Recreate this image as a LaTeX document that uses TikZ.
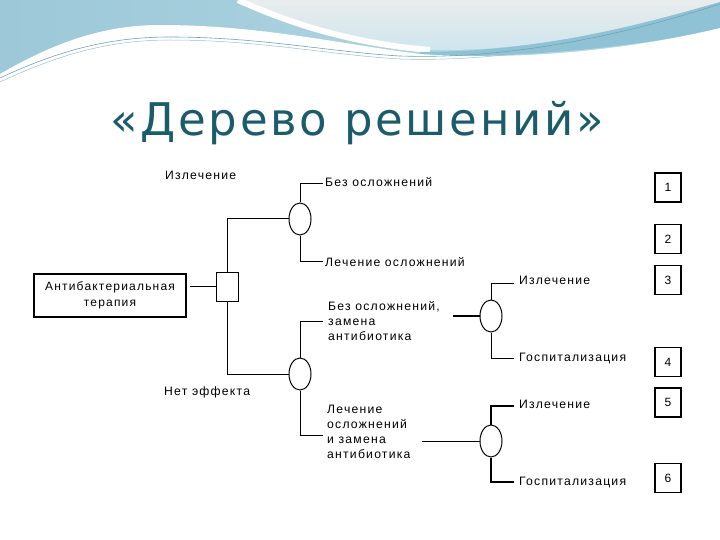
\documentclass[tikz,border=0pt]{standalone}
\usepackage{fontspec}
\setmainfont{Liberation Sans}
\newfontfamily\titlefont[LetterSpace=6]{DejaVu Sans}
\newfontfamily\lblfont[LetterSpace=10]{Liberation Sans}
\usetikzlibrary{shapes.geometric}
\definecolor{titlecol}{HTML}{1B5C6C}
\definecolor{bgA}{HTML}{9CC8D8}
\definecolor{bgB}{HTML}{B9DBE7}
\definecolor{bgGray}{HTML}{E9ECEC}
\definecolor{bgBand}{HTML}{8FC2D5}
\definecolor{wline}{HTML}{6FA5B8}
\tikzset{
  lbl/.style={font=\lblfont\fontsize{12.2}{15}\selectfont, inner sep=0pt, align=left},
  chance/.style={draw, ellipse, minimum width=22pt, minimum height=32pt, inner sep=0pt, line width=1pt},
  decbox/.style={draw, rectangle, minimum width=22pt, minimum height=29pt, inner sep=0pt, line width=1pt},
  endbox/.style={draw, rectangle, minimum width=26pt, minimum height=29pt, inner sep=0pt, line width=1.3pt, font=\lblfont\fontsize{12}{14}\selectfont},
  conn/.style={line width=1pt},
  thick conn/.style={line width=1.8pt}
}
\begin{document}
\begin{tikzpicture}[x=1pt,y=-1pt]
\useasboundingbox (0,0) rectangle (720,540);
% background
\fill[white] (0,0) rectangle (720,540);
\shade[left color=bgA, right color=bgB] (0,0) rectangle (720,95);
\shade[top color=bgGray, bottom color=bgB!70!white] (238,0) .. controls (300,28) and (360,44) .. (430,50) .. controls (540,52) and (640,25) .. (720,2) -- (720,0) -- cycle;
\draw[white, line width=6pt] (238,0) .. controls (300,28) and (360,44) .. (430,50);
\fill[bgBand] (420,52) .. controls (540,52) and (640,25) .. (720,2) -- (720,30) .. controls (640,45) and (540,58) .. (420,56) -- cycle;
\fill[white] (0,74) .. controls (50,45) and (100,25) .. (160,25) .. controls (260,25) and (340,44) .. (420,54) .. controls (540,62) and (650,45) .. (720,28) -- (720,540) -- (0,540) -- cycle;
\draw[wline, line width=0.6pt] (0,78) .. controls (60,50) and (110,37) .. (170,37) .. controls (260,37) and (330,52) .. (400,56) .. controls (520,60) and (640,30) .. (720,4);
\draw[wline!70!white, line width=0.5pt] (0,82) .. controls (60,54) and (110,40) .. (170,40) .. controls (260,40) and (330,55) .. (400,59) .. controls (520,63) and (640,34) .. (720,9);
% title
\node[font=\titlefont\fontsize{45}{47}\selectfont, text=titlecol, anchor=base] (title) at (357,136) {«Дерево решений»};
% nodes
\node[draw, rectangle, line width=1.3pt, minimum width=152pt, minimum height=43pt, inner sep=0pt, align=center, font=\lblfont\fontsize{12}{16}\selectfont] (ther) at (110,295.5) {Антибактериальная\\терапия};
\node[decbox] (dec) at (227,286.5) {};
\node[chance] (c1) at (300,219) {};
\node[chance] (c2) at (300,374) {};
\node[chance] (c3) at (491,316) {};
\node[chance] (c4) at (491,441) {};
\node[endbox] (n1) at (668,187.5) {1};
\node[endbox] (n2) at (668,239) {2};
\node[endbox] (n3) at (668,280) {3};
\node[endbox] (n4) at (668,362) {4};
\node[endbox] (n5) at (668,402.5) {5};
\node[endbox] (n6) at (668,478) {6};
% labels
\node[lbl, anchor=base west] (lcure) at (165,180) {Излечение};
\node[lbl, anchor=base west] (lnoeff) at (164,395) {Нет эффекта};
\node[lbl, anchor=base west] (l11) at (325,187) {Без осложнений};
\node[lbl, anchor=base west] (l12) at (325,266) {Лечение осложнений};
\node[lbl, anchor=north west] (l21) at (328,301) {Без осложнений,\\замена\\антибиотика};
\node[lbl, anchor=north west] (l22) at (327,405) {Лечение\\осложнений\\и замена\\антибиотика};
\node[lbl, anchor=base west] (l31) at (519,284) {Излечение};
\node[lbl, anchor=base west] (l32) at (519,361) {Госпитализация};
\node[lbl, anchor=base west] (l41) at (519,408) {Излечение};
\node[lbl, anchor=base west] (l42) at (519,485) {Госпитализация};
% coordinates for connector ends
\coordinate (e11) at (323,184);
\coordinate (e12) at (323,261);
\coordinate (e21) at (323,321);
\coordinate (e22) at (323,435);
\coordinate (s3) at (453,316);
\coordinate (s4) at (422,441);
\coordinate (e31) at (514,283);
\coordinate (e32) at (514,358);
\coordinate (e41) at (514,406);
\coordinate (e42) at (514,482);
% connectors
\draw[conn] ([xshift=3pt]ther.east |- dec.west) -- (dec.west);
\draw[conn] (dec.north) |- (c1.west);
\draw[conn] (dec.south) |- (c2.west);
\draw[conn] (c1.north) |- (e11);
\draw[conn] (c1.south) |- (e12);
\draw[conn] (c2.north) |- (e21);
\draw[conn] (c2.south) |- (e22);
\draw[thick conn] (s3) -- (c3.west);
\draw[conn] (s4) -- (c4.west);
\draw[conn] (c3.north) |- (e31);
\draw[conn] (c3.south) |- (e32);
\draw[thick conn] (c4.north) |- (e41);
\draw[thick conn] (c4.south) |- (e42);
\end{tikzpicture}
\end{document}
